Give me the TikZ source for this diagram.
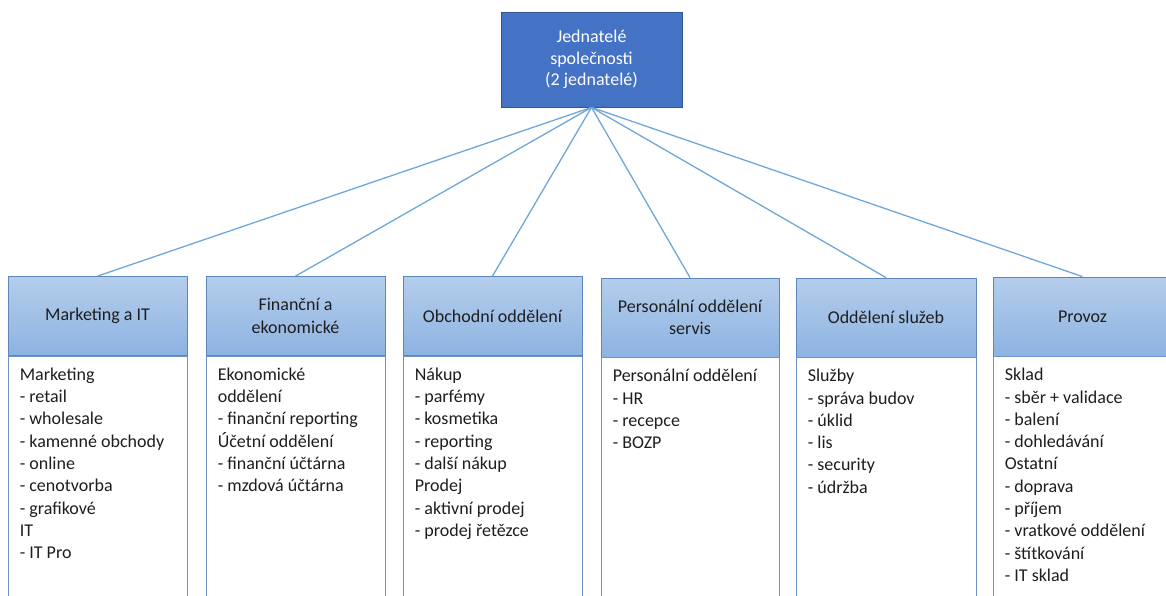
\documentclass[tikz,border=0pt]{standalone}
\usepackage{fontspec}
\setmainfont{Carlito}
\usetikzlibrary{shadings}
\definecolor{topfill}{HTML}{4472C4}
\definecolor{topdraw}{HTML}{2F5597}
\definecolor{hdtop}{HTML}{B4CDEB}
\definecolor{hdbot}{HTML}{8DB3E2}
\definecolor{hddraw}{HTML}{5B87BE}
\definecolor{bodydraw}{HTML}{6D93C2}
\definecolor{linkcol}{HTML}{6FA6DA}
\definecolor{txt}{HTML}{1E1E1E}
\tikzset{
  boss/.style={draw=topdraw, line width=0.8pt, fill=topfill, minimum width=181pt, minimum height=95pt,
    inner sep=0pt, align=center, text=white, font=\fontsize{18}{21.5}\selectfont},
  hdr/.style={draw=hddraw, line width=0.8pt, top color=hdtop, bottom color=hdbot, minimum width=179pt,
    minimum height=79pt, inner sep=0pt, align=center, text=txt, font=\fontsize{18}{22.3}\selectfont},
  bodybox/.style={draw=bodydraw, line width=0.8pt, fill=white, minimum width=179pt, minimum height=260pt,
    inner sep=0pt, anchor=north},
  bodytxt/.style={anchor=north west, inner sep=0pt, align=left, text=txt, font=\fontsize{18}{22.3}\selectfont},
  link/.style={draw=linkcol, line width=1.3pt}
}
\begin{document}
\begin{tikzpicture}[x=1pt,y=-1pt]
\useasboundingbox (0,0) rectangle (1166,596);
\clip (0,0) rectangle (1166,596);

\node[boss] (top) at (591.5,59.5) {Jednatelé\\společnosti\\(2 jednatelé)};

\node[hdr] (h1) at (97.5,316) {Marketing a IT};
\node[hdr] (h2) at (295.5,316) {Finanční a\\ekonomické};
\node[hdr] (h3) at (492.5,316) {Obchodní oddělení};
\node[hdr, minimum width=178pt] (h4) at (690,317.5) {Personální oddělení\\servis};
\node[hdr, minimum width=180pt] (h5) at (886,317.5) {Oddělení služeb};
\node[hdr] (h6) at (1082.5,316.5) {Provoz};

\node[bodybox] (b1) at (h1.south) {};
\node[bodybox] (b2) at (h2.south) {};
\node[bodybox] (b3) at (h3.south) {};
\node[bodybox, minimum width=178pt] (b4) at (h4.south) {};
\node[bodybox, minimum width=180pt] (b5) at (h5.south) {};
\node[bodybox] (b6) at (h6.south) {};

\node[bodytxt] (t1) at ([xshift=12pt,yshift=-8.5pt]b1.north west) {\strut Marketing\\- retail\\- wholesale\\- kamenné obchody\\- online\\- cenotvorba\\- grafikové\\IT\\- IT Pro};
\node[bodytxt] (t2) at ([xshift=12pt,yshift=-8.5pt]b2.north west) {\strut Ekonomické\\oddělení\\- finanční reporting\\Účetní oddělení\\- finanční účtárna\\- mzdová účtárna};
\node[bodytxt] (t3) at ([xshift=12pt,yshift=-8.5pt]b3.north west) {\strut Nákup\\- parfémy\\- kosmetika\\- reporting\\- další nákup\\Prodej\\- aktivní prodej\\- prodej řetězce};
\node[bodytxt] (t4) at ([xshift=12pt,yshift=-8.5pt]b4.north west) {\strut Personální oddělení\\- HR\\- recepce\\- BOZP};
\node[bodytxt] (t5) at ([xshift=12pt,yshift=-8.5pt]b5.north west) {\strut Služby\\- správa budov\\- úklid\\- lis\\- security\\- údržba};
\node[bodytxt] (t6) at ([xshift=12pt,yshift=-8.5pt]b6.north west) {\strut Sklad\\- sběr + validace\\- balení\\- dohledávání\\Ostatní\\- doprava\\- příjem\\- vratkové oddělení\\- štítkování\\- IT sklad};

\foreach \h in {h1,h2,h3,h4,h5,h6}{
  \draw[link] (top.south) -- (\h.north);
}
\end{tikzpicture}
\end{document}
